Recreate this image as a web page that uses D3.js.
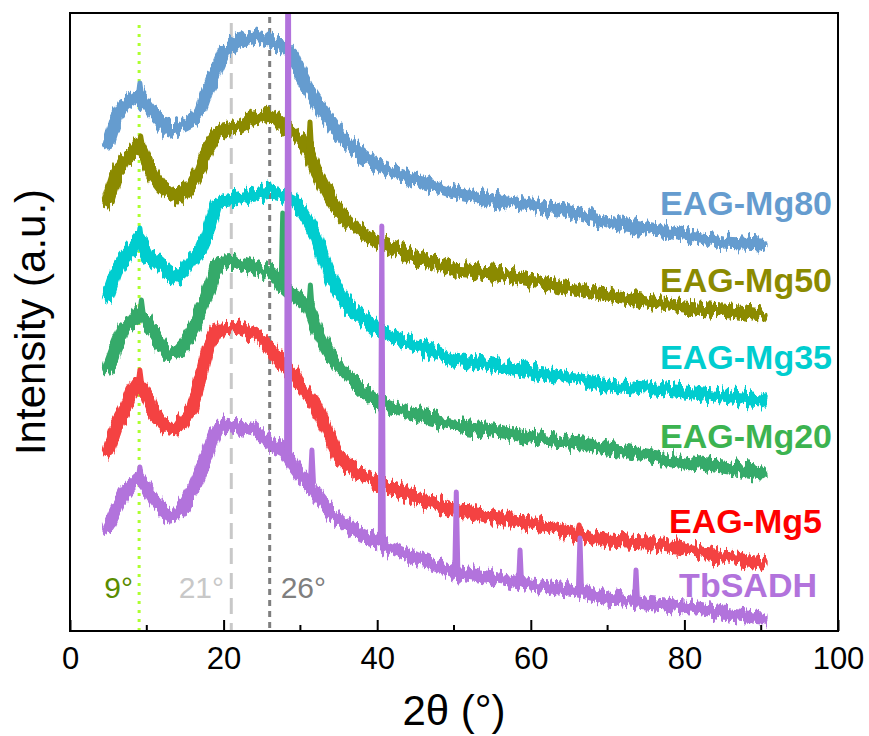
<!DOCTYPE html>
<html>
<head>
<meta charset="utf-8">
<script src="https://cdn.jsdelivr.net/npm/d3@7/dist/d3.min.js"></script>
<style>
  html, body { margin: 0; padding: 0; background: #fff; }
  svg { display: block; font-family: Arial, "Liberation Sans", sans-serif; }
</style>
</head>
<body>
<svg id="chart" width="869" height="736"></svg>
<script>
// Diffraction angles (2θ, degrees) shared by every pattern
const twoTheta = [5, 6, 7, 8, 9, 10, 11, 12, 13, 14, 15, 16, 17, 18, 19, 20,
  22, 24, 26, 27, 28, 29, 30, 31, 32, 33, 34, 35, 36, 38, 40,
  45, 50, 55, 60, 65, 70, 75, 80, 85, 90];

// Stacked intensities (a.u., offset already applied)
const mg80 = [488, 513, 526, 531, 536, 526, 516, 508, 500, 503, 507, 511, 521, 543, 561, 579,
  589, 594, 591, 586, 583, 576, 558, 543, 531, 519, 509, 498, 489, 476, 466,
  451, 439, 431, 426, 419, 409, 403, 396, 389, 387];
const mg50 = [431, 456, 471, 476, 486, 469, 454, 444, 438, 434, 439, 448, 463, 484, 496, 501,
  504, 513, 516, 511, 503, 496, 491, 481, 461, 446, 431, 419, 411, 398, 389,
  374, 361, 358, 351, 343, 336, 329, 324, 321, 316];
const mg35 = [336, 359, 373, 381, 391, 376, 371, 364, 358, 354, 361, 373, 381, 399, 426, 430,
  433, 436, 439, 438, 435, 431, 423, 410, 396, 373, 353, 339, 328, 314, 301,
  286, 271, 266, 259, 253, 246, 243, 239, 235, 231];
const mg20 = [263, 284, 303, 309, 319, 311, 296, 284, 276, 279, 288, 301, 319, 339, 363, 368,
  369, 363, 359, 353, 343, 336, 331, 326, 304, 288, 274, 265, 257, 241, 229,
  216, 206, 201, 194, 189, 183, 176, 169, 164, 158];
const mg5 = [181, 204, 218, 238, 249, 236, 216, 209, 202, 201, 213, 223, 254, 286, 301, 301,
  303, 296, 284, 273, 265, 258, 246, 236, 226, 208, 191, 173, 166, 156, 148,
  134, 121, 114, 108, 99, 90, 88, 83, 74, 68];
const tbsadh = [104, 121, 136, 146, 153, 143, 131, 121, 114, 118, 128, 141, 159, 181, 199, 206,
  204, 201, 188, 183, 179, 166, 156, 149, 138, 128, 118, 112, 106, 96, 89,
  73, 59, 53, 46, 42, 33, 28, 24, 18, 13];

// Sharp reflections: [2θ, peak top, local background]
const mg80Peaks = [[9.1, 548, 536]];
const mg50Peaks = [[9.2, 495, 486], [31.25, 509, 481]];
const mg35Peaks = [[9.1, 403, 391]];
const mg20Peaks = [[9.3, 331, 319], [27.7, 418, 349], [31.3, 346, 325]];
const mg5Peaks = [[9.1, 261, 249], [66.3, 106, 99]];
const tbsadhPeaks = [[9.1, 164, 153], [28.4, 800, 178], [31.5, 181, 149], [40.6, 405, 88],
  [50.3, 139, 60], [58.6, 81, 47], [66.4, 93, 41], [73.7, 61, 29]];

const sampleNames = ["EAG-Mg80", "EAG-Mg50", "EAG-Mg35", "EAG-Mg20", "EAG-Mg5", "TbSADH"];
const xTicks = [0, 20, 40, 60, 80, 100];
const refAngles = [9, 21, 26];
const refLabels = ["9°", "21°", "26°"];

const series = [
  { name: sampleNames[0], values: mg80, peaks: mg80Peaks, color: "#659ccf", labelColor: "#659ccf", lx: 832, ly: 215 },
  { name: sampleNames[1], values: mg50, peaks: mg50Peaks, color: "#8b8a00", labelColor: "#8b8a00", lx: 832, ly: 292 },
  { name: sampleNames[2], values: mg35, peaks: mg35Peaks, color: "#00cdcf", labelColor: "#00cdcf", lx: 832, ly: 369 },
  { name: sampleNames[3], values: mg20, peaks: mg20Peaks, color: "#36aa6a", labelColor: "#3cb350", lx: 832, ly: 448 },
  { name: sampleNames[4], values: mg5, peaks: mg5Peaks, color: "#f44242", labelColor: "#ff0000", lx: 822, ly: 533 },
  { name: sampleNames[5], values: tbsadh, peaks: tbsadhPeaks, color: "#b273dc", labelColor: "#b273dc", lx: 817, ly: 597 }
];

const margin = { left: 70, top: 13, right: 31, bottom: 105 };
const W = 869, H = 736;
const x0 = margin.left, x1 = W - margin.right, y0 = H - margin.bottom, y1 = margin.top;

const x = d3.scaleLinear().domain([0, 100]).range([x0, x1]);
const y = d3.scaleLinear().domain([0, 618]).range([y0, y1]);

const svg = d3.select("#chart");
const defs = svg.append("defs");

defs.append("clipPath").attr("id", "plot-clip")
  .append("rect").attr("x", x0).attr("y", y1).attr("width", x1 - x0).attr("height", y0 - y1);

// Counting noise on the broad profiles: vertical-only jitter
const noise = defs.append("filter").attr("id", "noise")
  .attr("x", "-5%").attr("y", "-20%").attr("width", "110%").attr("height", "140%");
noise.append("feTurbulence").attr("type", "fractalNoise")
  .attr("baseFrequency", "0.32 0.04").attr("numOctaves", 3).attr("seed", 3).attr("result", "turb");
noise.append("feColorMatrix").attr("in", "turb").attr("type", "matrix")
  .attr("values", "0 0 0 0 0.5  0 1.3 0 0 -0.15  0 0 1 0 0  0 0 0 0 1").attr("result", "map");
noise.append("feDisplacementMap").attr("in", "SourceGraphic").attr("in2", "map")
  .attr("scale", 14).attr("xChannelSelector", "R").attr("yChannelSelector", "G");

// Reference angle markers
const refStyles = [
  { color: "#adff2f", dash: "3,6", top: 25, text: "#5a8c00", tx: 133 },
  { color: "#c8c8c8", dash: "16,9", top: 23, text: "#c8c8c8", tx: 224 },
  { color: "#7f7f7f", dash: "6,5", top: 17, text: "#7f7f7f", tx: 326 }
];
refAngles.forEach((a, i) => {
  const s = refStyles[i];
  svg.append("line")
    .attr("x1", x(a)).attr("x2", x(a)).attr("y1", s.top).attr("y2", y0)
    .attr("stroke", s.color).attr("stroke-width", 3).attr("stroke-dasharray", s.dash);
  svg.append("text")
    .attr("x", s.tx).attr("y", 598).attr("text-anchor", "end")
    .attr("font-size", 30).attr("fill", s.text).text(refLabels[i]);
});

const line = d3.line().x(d => x(d[0])).y(d => y(d[1])).curve(d3.curveLinear);
const plot = svg.append("g").attr("clip-path", "url(#plot-clip)");

series.forEach(s => {
  const pts = twoTheta.map((t, i) => [t, s.values[i]]);
  plot.append("path")
    .attr("d", line(pts))
    .attr("fill", "none").attr("stroke", s.color).attr("stroke-width", 13)
    .attr("stroke-linejoin", "round").attr("stroke-linecap", "round")
    .attr("filter", "url(#noise)");
  s.peaks.forEach(p => {
    plot.append("path")
      .attr("d", line([[p[0] - 0.2, p[2]], [p[0], p[1]], [p[0] + 0.2, p[2]]]))
      .attr("fill", "none").attr("stroke", s.color).attr("stroke-width", 5)
      .attr("stroke-linejoin", "round").attr("stroke-linecap", "round");
  });
});

// Sample labels
series.forEach(s => {
  svg.append("text")
    .attr("x", s.lx).attr("y", s.ly).attr("text-anchor", "end")
    .attr("font-size", 34).attr("font-weight", "bold")
    .attr("fill", s.labelColor).text(s.name);
});

// Bottom axis with inward ticks
const xAxis = d3.axisBottom(x).tickValues(xTicks).tickSize(-11).tickPadding(16)
  .tickFormat(d3.format("d"));
const gx = svg.append("g").attr("transform", `translate(0,${y0})`).call(xAxis);
gx.select(".domain").remove();
gx.selectAll(".tick line").attr("stroke", "#000").attr("stroke-width", 2);
gx.selectAll(".tick text").attr("font-size", 31).attr("fill", "#000")
  .attr("font-family", "Arial, 'Liberation Sans', sans-serif");

const minor = d3.range(10, 100, 20);
svg.append("g").selectAll("line").data(minor).join("line")
  .attr("x1", d => x(d)).attr("x2", d => x(d))
  .attr("y1", y0).attr("y2", y0 - 6)
  .attr("stroke", "#000").attr("stroke-width", 2);

// Frame
svg.append("rect")
  .attr("x", x0).attr("y", y1).attr("width", x1 - x0).attr("height", y0 - y1)
  .attr("fill", "none").attr("stroke", "#000").attr("stroke-width", 2);

// Axis titles
svg.append("text")
  .attr("x", (x0 + x1) / 2).attr("y", 725).attr("text-anchor", "middle")
  .attr("font-size", 42).attr("fill", "#000").text("2θ (°)");
svg.append("text")
  .attr("transform", `translate(45,${(y0 + y1) / 2}) rotate(-90)`)
  .attr("text-anchor", "middle")
  .attr("font-size", 42).attr("fill", "#000").text("Intensity (a.u.)");
</script>
</body>
</html>
